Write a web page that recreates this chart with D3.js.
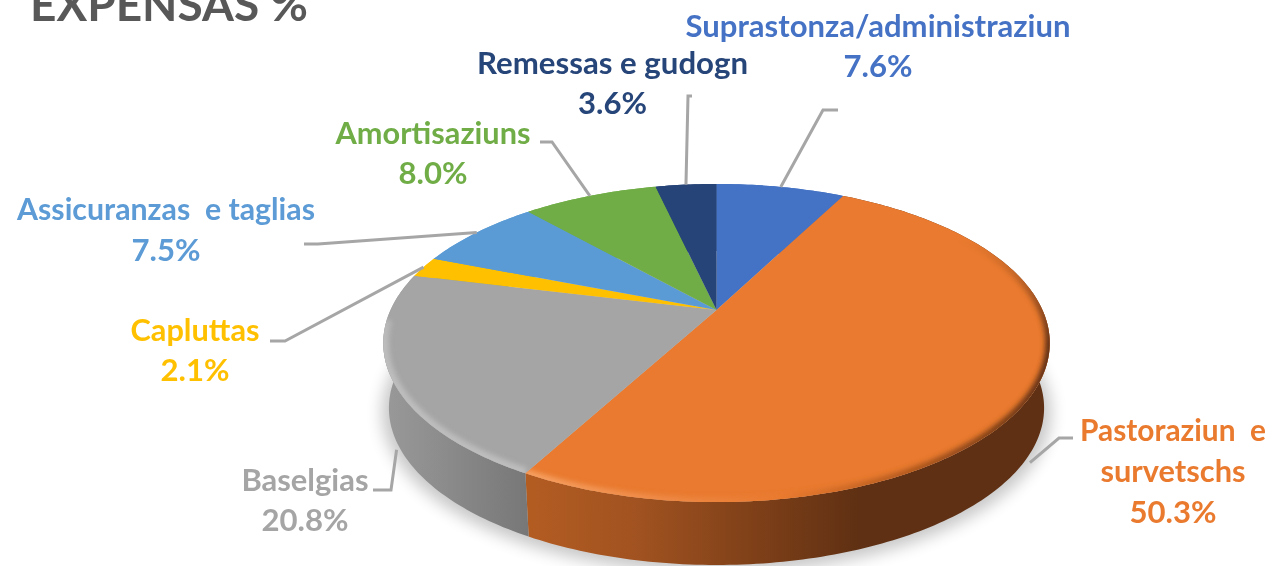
<!DOCTYPE html>
<html><head><meta charset="utf-8">
<script src="https://cdn.jsdelivr.net/npm/d3@7/dist/d3.min.js"></script>
<style>
html,body{margin:0;padding:0;background:#fff;overflow:hidden}
svg{display:block}
text{font-family:Lato,"Open Sans",sans-serif;font-weight:700;white-space:pre}
</style></head><body>
<svg id="c" width="1276" height="566"></svg>
<script>
// ---- data ----
const categories = ["Suprastonza/administraziun","Pastoraziun  e survetschs","Baselgias","Capluttas","Assicuranzas  e taglias","Amortisaziuns","Remessas e gudogn"];
const values = [7.6,50.3,20.8,2.1,7.5,8.0,3.6];
const colors = ["#4472c4","#e97a2f","#a5a5a5","#ffc000","#5b9bd5","#70ad47","#264478"];
const titleText = "EXPENSAS %";

// ---- layout of labels (not data) ----
const labelLayout = [
 {lines:[["Suprastonza/administraziun",37,385],["7.6%",77,69]],cx:878,elbow:[[838,110],[823,110]]},
 {lines:[["Pastoraziun  e",441,186],["survetschs",482,145],["50.3%",523,87]],cx:1173,elbow:[[1073,438],[1059,438]],wall:true,dy:9},
 {lines:[["Baselgias",491,127],["20.8%",531,87]],cx:305,elbow:[[373,490],[391,490]],wall:true,dy:8},
 {lines:[["Capluttas",341,129],["2.1%",381,69]],cx:195,elbow:[[270,341],[285,341]]},
 {lines:[["Assicuranzas  e taglias",220,298],["7.5%",261,69]],cx:166,elbow:[[304,244],[318,244]]},
 {lines:[["Amortisaziuns",144,195],["8.0%",184,69]],cx:433,elbow:[[540,142],[552,142]]},
 {lines:[["Remessas e gudogn",74,271],["3.6%",114,69]],cx:612.5,elbow:[[692,96],[688,96]]}
];

// ---- perspective projection of the pie disc ----
const CX=716.5, APEX=310, C=326, A=152.2, K=-0.2075;
const proj=(theta,r=1)=>{
  const X=r*Math.sin(theta), Y=-r*Math.cos(theta), w=1+K*Y;
  return [CX+C*X/w, APEX+A*Y/w];
};
const projB=(theta,r=1)=>{
  const p=proj(theta,r);
  return [CX+(p[0]-CX)*0.983, 408+(p[1]-343)*0.987];
};
const arcs=d3.pie().sort(null).value(d=>d)(values);
const line=d3.line();
const samples=(a,b)=>d3.range(0,1.0001,1/Math.max(4,Math.ceil((b-a)*60))).map(t=>a+(b-a)*t);

const svg=d3.select("#c");
const defs=svg.append("defs");
const blur=(id,s)=>defs.append("filter").attr("id",id).attr("x","-20%").attr("y","-20%").attr("width","140%").attr("height","140%")
   .append("feGaussianBlur").attr("stdDeviation",s);
blur("sh",8);blur("b2",2.6);blur("tb",0.45);
const grad=(id,stops)=>{
  const g=defs.append("linearGradient").attr("id",id).attr("gradientUnits","userSpaceOnUse")
    .attr("x1",380).attr("x2",1052).attr("y1",0).attr("y2",0);
  stops.forEach(([o,c])=>g.append("stop").attr("offset",(o-380)/672).attr("stop-color",c));
};
grad("wallO",[[530,"#b35c22"],[640,"#a05220"],[760,"#7d3f18"],[860,"#5f3013"],[1052,"#5f3013"]]);
grad("wallG",[[380,"#9a9a9a"],[430,"#8f8f8f"],[533,"#767676"]]);
grad("rimO",[[530,"#f6a062"],[660,"#ee8a47"],[780,"#e97a2f"],[900,"#b65c20"],[1052,"#5f3013"]]);

// fade the bevel out towards the back of the disc
const fade=defs.append("linearGradient").attr("id","fadeG").attr("gradientUnits","userSpaceOnUse")
  .attr("x1",0).attr("x2",0).attr("y1",240).attr("y2",345);
fade.append("stop").attr("offset",0).attr("stop-color","#000");
fade.append("stop").attr("offset",1).attr("stop-color","#fff");
defs.append("mask").attr("id","fadeM").attr("maskUnits","userSpaceOnUse")
  .attr("x",0).attr("y",0).attr("width",1276).attr("height",566)
  .append("rect").attr("width",1276).attr("height",566).attr("fill","url(#fadeG)");

// soft shadow beneath
const full=samples(0,2*Math.PI);
svg.append("path").attr("d",line(full.map(t=>{const p=projB(t,1.02);return [p[0],p[1]+3];}))+"Z")
  .attr("fill","#000").attr("opacity",0.22).attr("filter","url(#sh)");

// side walls
svg.append("g").selectAll("path").data(arcs).join("path")
  .attr("d",d=>{
    const s=samples(d.startAngle,d.endAngle);
    return line(s.map(t=>proj(t)).concat(s.slice().reverse().map(t=>projB(t))))+"Z";
  })
  .attr("fill",(d,i)=>i===1?"url(#wallO)":i===2?"url(#wallG)":colors[i]);

// top face
const slicePath=d=>line([proj(0,0)].concat(samples(d.startAngle,d.endAngle).map(t=>proj(t))))+"Z";
svg.append("g").selectAll("path").data(arcs).join("path")
  .attr("d",slicePath).attr("fill",(d,i)=>colors[i]);

// bevel along the rim of the two big slices
arcs.forEach((d,i)=>{
  if(i!==1&&i!==2)return;
  defs.append("clipPath").attr("id","cl"+i).append("path").attr("d",slicePath(d));
  const rim=samples(i===1?d.startAngle+0.5:d.startAngle,i===2?d.endAngle-0.3:d.endAngle);
  const g=svg.append("g").attr("clip-path","url(#cl"+i+")").append("g").attr("mask","url(#fadeM)");
  g.append("path").attr("d",line(rim.map(t=>proj(t,1))))
    .attr("fill","none").attr("stroke",i===1?"url(#rimO)":"#bdbdbd").attr("stroke-width",i===1?9:11)
    .attr("filter","url(#b2)");
});

// leader lines
svg.append("g").selectAll("path").data(arcs).join("path")
  .attr("d",(d,i)=>{
    const L=labelLayout[i], m=(d.startAngle+d.endAngle)/2;
    let e=L.wall?projB(m):proj(m);
    if(L.dy) e=[e[0],e[1]+L.dy];
    return line(L.elbow.concat([e]));
  })
  .attr("fill","none").attr("stroke","#a6a6a6").attr("stroke-width",3);

// labels
const lab=svg.append("g").attr("filter","url(#tb)");
labelLayout.forEach((L,i)=>{
  L.lines.forEach(([t,y,w])=>{
    lab.append("text").attr("x",L.cx).attr("y",y).attr("text-anchor","middle")
      .attr("font-size",30).attr("fill",colors[i])
      .attr("textLength",w).attr("lengthAdjust","spacingAndGlyphs").text(t);
  });
});
lab.append("text").attr("x",169).attr("y",21).attr("text-anchor","middle").attr("font-size",46)
  .attr("fill","#595959").attr("textLength",278).attr("lengthAdjust","spacingAndGlyphs").text(titleText);
</script></body></html>
